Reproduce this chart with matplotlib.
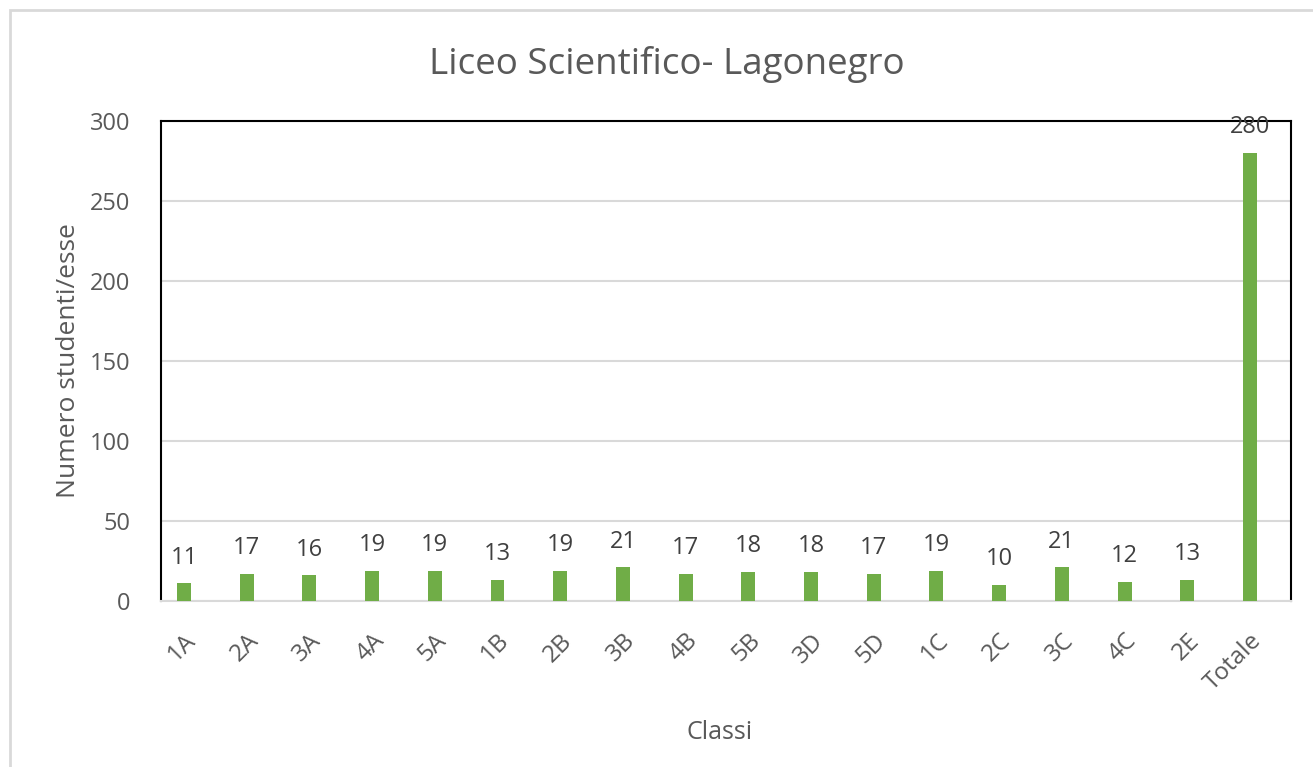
import matplotlib.pyplot as plt
import numpy as np
from matplotlib.patches import Rectangle

plt.rcParams['font.family'] = ['Open Sans', 'DejaVu Sans']

# data
classi = ['1A', '2A', '3A', '4A', '5A', '1B', '2B', '3B', '4B', '5B',
          '3D', '5D', '1C', '2C', '3C', '4C', '2E', 'Totale']
studenti = [11, 17, 16, 19, 19, 13, 19, 21, 17, 18,
            18, 17, 19, 10, 21, 12, 13, 280]

bar_color = '#70ad47'
text_color = '#595959'

fig = plt.figure(figsize=(13.13, 7.67), dpi=100)
ax = fig.add_axes([0.1226, 0.2164, 0.8606, 0.6258])

x = np.arange(len(classi))
ax.bar(x, studenti, width=0.223, color=bar_color, zorder=3)

# data labels
for xi, v in zip(x, studenti):
    ax.annotate(str(v), (xi, v), xytext=(0, 10), textcoords='offset points',
                ha='center', va='bottom', fontsize=17, color='#404040')

ax.set_xlim(-0.367, len(classi) - 0.346)
ax.set_ylim(0, 300)
ax.set_yticks(np.arange(0, 301, 50))
ax.set_xticks(x)
ax.set_xticklabels(classi, rotation=45, ha='right', rotation_mode='anchor')
ax.tick_params(axis='x', length=0, pad=20, labelsize=17.5, labelcolor=text_color)
ax.tick_params(axis='y', length=0, pad=22, labelsize=17, labelcolor=text_color)

ax.grid(axis='y', color='#d9d9d9', linewidth=1.5, zorder=0)
for side in ['left', 'top', 'right']:
    ax.spines[side].set_color('black')
    ax.spines[side].set_linewidth(1.5)
ax.spines['bottom'].set_color('#d9d9d9')
ax.spines['bottom'].set_linewidth(1.5)

ax.set_ylabel('Numero studenti/esse', fontsize=19, color=text_color)
ax.yaxis.set_label_coords(-0.071, 0.5)
ax.set_xlabel('Classi', fontsize=18, color=text_color)
ax.xaxis.set_label_coords(0.494, -0.247)

fig.text(0.508, 0.916, 'Liceo Scientifico- Lagonegro', ha='center', va='center',
         fontsize=26.5, color=text_color)

# chart frame
fig.patches.append(Rectangle((10 / 1313, -0.1), 1.2, 1 - 10 / 767 + 0.1,
                             transform=fig.transFigure, fill=False,
                             edgecolor='#d9d9d9', linewidth=2))

fig.savefig('out.png', dpi=100)
